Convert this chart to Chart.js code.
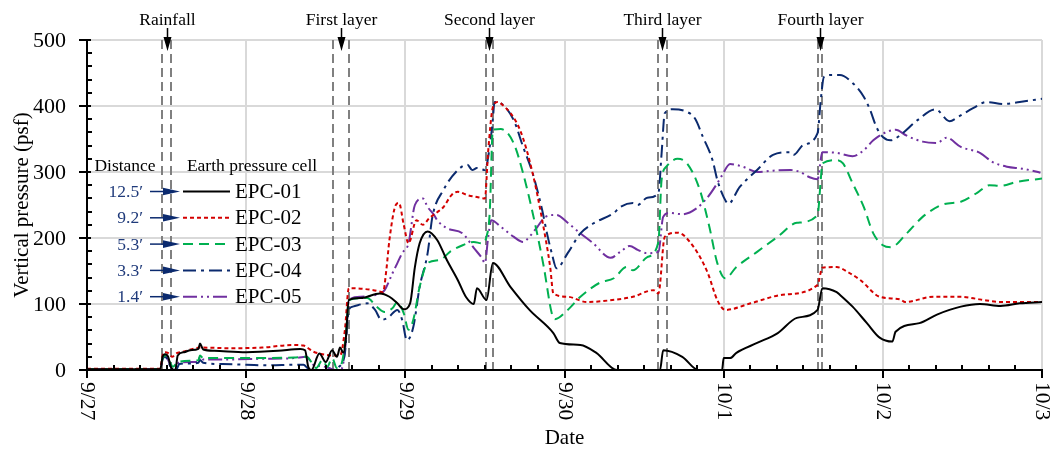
<!DOCTYPE html>
<html><head><meta charset="utf-8">
<script src="https://cdn.jsdelivr.net/npm/chart.js@4.4.1/dist/chart.umd.min.js"></script>
<style>html,body{margin:0;padding:0;background:#fff}#wrap{width:1052px;height:449px;position:relative}</style>
</head><body><div id="wrap"><canvas id="c"></canvas></div>
<script>
// ---- data (x = days since 9/27 00:00, y = psf) ----
const xTickLabels = ['9/27','9/28','9/29','9/30','10/1','10/2','10/3'];
const yTickLabels = ['0','100','200','300','400','500'];
const seriesNames = ['EPC-01','EPC-02','EPC-03','EPC-04','EPC-05'];
const distances = ['12.5\u2032','9.2\u2032','5.3\u2032','3.3\u2032','1.4\u2032'];
const eventNames = ['Rainfall','First layer','Second layer','Third layer','Fourth layer'];
const eventStart = [0.471,1.545,2.506,3.587,4.592];
const eventEnd   = [0.528,1.646,2.550,3.643,4.617];

const epc01 = [[0,1],[0.46,1],[0.475,20],[0.49,24],[0.51,20],[0.53,3],[0.555,0],[0.57,22],[0.61,27],[0.65,30],[0.70,32],[0.71,40],[0.73,31],[0.8,29],[1.0,27],[1.2,29],[1.34,32],[1.37,30],[1.39,5],[1.41,0],[1.46,25],[1.5,12],[1.54,30],[1.57,20],[1.59,34],[1.61,26],[1.625,45],[1.645,106],[1.72,109],[1.84,116],[1.90,111],[1.95,101],[1.99,92],[2.03,101],[2.06,156],[2.09,192],[2.14,210],[2.20,197],[2.26,167],[2.33,136],[2.38,111],[2.43,100],[2.45,124],[2.51,106],[2.55,162],[2.66,126],[2.78,91],[2.93,56],[2.97,41],[3.10,38],[3.20,26],[3.33,0],[3.60,0],[3.62,30],[3.74,20],[3.84,0],[3.99,0],[4.0,18],[4.04,18],[4.08,26],[4.21,41],[4.34,56],[4.46,79],[4.59,91],[4.62,124],[4.71,118],[4.73,114],[4.81,96],[4.90,71],[4.98,49],[5.06,43],[5.08,58],[5.23,71],[5.34,84],[5.49,96],[5.61,100],[5.74,97],[5.86,101],[6.0,103]];
const epc02 = [[0,2],[0.46,2],[0.475,22],[0.49,27],[0.52,24],[0.535,20],[0.56,25],[0.61,28],[0.71,34],[0.9,33],[1.1,34],[1.3,38],[1.36,37],[1.42,28],[1.46,25],[1.55,22],[1.59,22],[1.62,60],[1.645,124],[1.80,121],[1.86,118],[1.88,150],[1.90,197],[1.94,250],[1.96,253],[1.99,220],[2.02,192],[2.07,227],[2.11,220],[2.15,230],[2.20,239],[2.24,247],[2.29,265],[2.33,270],[2.39,265],[2.45,262],[2.50,260],[2.52,330],[2.55,398],[2.58,406],[2.60,404],[2.72,364],[2.80,298],[2.86,227],[2.91,156],[2.93,116],[3.02,111],[3.14,103],[3.30,106],[3.43,111],[3.56,121],[3.59,116],[3.63,202],[3.71,208],[3.81,187],[3.90,147],[3.96,106],[4.01,91],[4.17,101],[4.37,114],[4.59,129],[4.62,155],[4.71,156],[4.73,155],[4.79,147],[4.86,136],[4.98,111],[5.11,107],[5.14,103],[5.32,111],[5.49,111],[5.61,107],[5.74,103],[6.0,103]];
const epc03 = [[0,1],[0.46,1],[0.475,18],[0.49,22],[0.52,12],[0.54,5],[0.57,12],[0.65,14],[0.70,15],[0.71,22],[0.73,18],[0.9,18],[1.1,18],[1.3,19],[1.38,20],[1.41,12],[1.44,3],[1.48,15],[1.51,5],[1.54,18],[1.57,3],[1.60,10],[1.625,50],[1.645,106],[1.76,109],[1.82,96],[1.87,88],[1.92,94],[1.95,103],[1.99,86],[2.02,61],[2.05,76],[2.09,126],[2.14,162],[2.22,167],[2.28,179],[2.36,189],[2.43,194],[2.48,192],[2.51,202],[2.53,238],[2.55,364],[2.60,365],[2.68,344],[2.74,298],[2.80,238],[2.87,156],[2.92,86],[2.94,77],[3.02,91],[3.10,111],[3.22,132],[3.31,139],[3.39,156],[3.43,151],[3.52,171],[3.59,194],[3.61,288],[3.64,308],[3.71,320],[3.77,313],[3.85,273],[3.91,217],[3.96,162],[4.01,139],[4.08,156],[4.21,179],[4.34,202],[4.46,223],[4.59,235],[4.61,288],[4.62,313],[4.71,318],[4.75,313],[4.81,283],[4.88,247],[4.94,207],[5.0,189],[5.05,186],[5.15,207],[5.25,232],[5.38,251],[5.49,255],[5.59,268],[5.67,280],[5.74,279],[5.84,285],[6.0,290]];
const epc04 = [[0,0],[0.46,0],[0.475,16],[0.49,20],[0.51,14],[0.53,2],[0.56,0],[0.58,9],[0.65,10],[0.70,11],[0.71,15],[0.73,11],[0.85,9],[1.0,8],[1.15,7],[1.3,8],[1.36,8],[1.39,2],[1.42,0],[1.55,0],[1.58,4],[1.62,25],[1.645,91],[1.67,96],[1.76,101],[1.81,91],[1.85,76],[1.89,79],[1.95,91],[1.98,76],[2.01,45],[2.05,65],[2.09,126],[2.14,177],[2.17,232],[2.24,273],[2.33,303],[2.39,311],[2.42,303],[2.45,306],[2.50,303],[2.53,338],[2.55,380],[2.56,406],[2.60,404],[2.68,379],[2.74,338],[2.80,298],[2.86,242],[2.89,207],[2.92,177],[2.95,154],[3.02,177],[3.10,207],[3.18,222],[3.31,238],[3.35,247],[3.43,253],[3.46,250],[3.52,261],[3.59,268],[3.61,328],[3.63,389],[3.68,395],[3.77,391],[3.82,381],[3.87,353],[3.93,318],[3.96,288],[4.0,262],[4.03,252],[4.10,277],[4.21,303],[4.31,326],[4.42,330],[4.44,326],[4.50,341],[4.59,359],[4.61,409],[4.63,444],[4.68,447],[4.73,447],[4.81,435],[4.88,414],[4.92,394],[4.96,368],[5.0,353],[5.05,348],[5.11,356],[5.22,379],[5.33,395],[5.42,377],[5.47,383],[5.57,397],[5.65,406],[5.76,403],[5.86,406],[6.0,411]];
const epc05 = [[0,1],[0.46,1],[0.475,18],[0.49,22],[0.51,15],[0.53,3],[0.555,0],[0.575,11],[0.65,12],[0.70,12],[0.71,20],[0.73,16],[0.9,16],[1.1,17],[1.3,18],[1.38,20],[1.42,8],[1.47,6],[1.52,3],[1.56,0],[1.60,2],[1.625,40],[1.645,106],[1.72,111],[1.84,116],[1.87,121],[1.92,147],[1.95,162],[1.98,177],[2.02,192],[2.06,250],[2.11,260],[2.14,247],[2.18,235],[2.20,227],[2.26,215],[2.36,207],[2.43,185],[2.48,170],[2.50,162],[2.52,200],[2.54,227],[2.60,217],[2.68,202],[2.74,194],[2.78,202],[2.83,217],[2.88,232],[2.95,235],[3.02,223],[3.10,207],[3.18,192],[3.29,170],[3.35,179],[3.41,188],[3.46,182],[3.52,177],[3.59,179],[3.62,232],[3.66,238],[3.74,236],[3.83,245],[3.90,262],[3.96,283],[3.99,295],[4.04,312],[4.12,308],[4.21,300],[4.31,302],[4.42,303],[4.48,300],[4.54,292],[4.59,289],[4.62,330],[4.71,329],[4.81,324],[4.88,333],[4.94,348],[5.0,358],[5.08,364],[5.15,355],[5.25,346],[5.34,344],[5.40,352],[5.49,338],[5.61,329],[5.69,315],[5.78,308],[5.88,305],[5.99,299]];

const seriesData = [epc01, epc02, epc03, epc04, epc05];
const colors = ['#000000','#d40000','#00b050','#0b2a6e','#7030a0'];
const dashes = [[],[4,3],[10,6],[13,5,3,5],[14,4,2,4,2,4]];
const FONT = '"Liberation Serif","Times New Roman",serif';

const overlay = {
  id:'overlay',
  beforeDatasetsDraw(chart){
    const {ctx, chartArea:a, scales:{x}} = chart;
    ctx.save();
    ctx.strokeStyle = '#808080'; ctx.lineWidth = 2; ctx.setLineDash([9,5]);
    eventStart.forEach((s,i)=>{
      [s, eventEnd[i]].forEach(v=>{
        const px = Math.round(x.getPixelForValue(v));
        ctx.beginPath(); ctx.moveTo(px, a.top); ctx.lineTo(px, a.bottom); ctx.stroke();
      });
    });
    ctx.restore();
  },
  afterDraw(chart){
    const {ctx, chartArea:a, scales:{x,y}} = chart;
    ctx.save();
    ctx.setLineDash([]);
    ctx.strokeStyle = '#000'; ctx.fillStyle = '#000';
    // axes
    ctx.lineWidth = 2;
    ctx.beginPath(); ctx.moveTo(a.left, a.top - 1); ctx.lineTo(a.left, a.bottom + 1); ctx.stroke();
    ctx.beginPath(); ctx.moveTo(a.left - 1, a.bottom); ctx.lineTo(a.right + 1, a.bottom); ctx.stroke();
    // y ticks
    for (let v = 0; v <= 500; v += 20) {
      const py = Math.round(y.getPixelForValue(v));
      ctx.beginPath();
      if (v % 100 === 0) { ctx.moveTo(a.left - 8, py); ctx.lineTo(a.left + 4, py); }
      else { ctx.moveTo(a.left - 1, py); ctx.lineTo(a.left + 5, py); }
      ctx.stroke();
    }
    // x ticks
    for (let k = 0; k <= 36; k++) {
      const px = Math.round(x.getPixelForValue(k / 6));
      ctx.beginPath();
      if (k % 6 === 0) { ctx.moveTo(px, a.bottom - 1); ctx.lineTo(px, a.bottom + 8); }
      else { ctx.moveTo(px, a.bottom - 5); ctx.lineTo(px, a.bottom); }
      ctx.stroke();
    }
    // y tick labels
    ctx.font = '22px ' + FONT; ctx.textAlign = 'right'; ctx.textBaseline = 'middle';
    yTickLabels.forEach((t,i)=>{ ctx.fillText(t, a.left - 21, y.getPixelForValue(i*100) + 1); });
    // x tick labels (rotated clockwise)
    ctx.font = '21.5px ' + FONT; ctx.textAlign = 'left'; ctx.textBaseline = 'middle';
    xTickLabels.forEach((t,i)=>{
      const px = x.getPixelForValue(i);
      ctx.save(); ctx.translate(px, a.bottom + 12); ctx.rotate(Math.PI/2);
      ctx.fillText(t, 0, 0); ctx.restore();
    });
    // axis titles
    ctx.font = '21px ' + FONT; ctx.textAlign = 'center'; ctx.textBaseline = 'middle';
    ctx.fillText('Date', (a.left + a.right)/2, 438);
    ctx.save(); ctx.translate(22, (a.top + a.bottom)/2); ctx.rotate(-Math.PI/2);
    ctx.fillText('Vertical pressure (psf)', 0, 0); ctx.restore();
    // event arrows and labels
    ctx.font = '17.5px ' + FONT; ctx.textAlign = 'center'; ctx.textBaseline = 'alphabetic';
    eventStart.forEach((s,i)=>{
      const ax = Math.round(x.getPixelForValue((s + eventEnd[i]) / 2)) + 0.5;
      ctx.fillText(eventNames[i], ax, 25);
      ctx.lineWidth = 1.5;
      ctx.beginPath(); ctx.moveTo(ax, 28); ctx.lineTo(ax, 39); ctx.stroke();
      ctx.beginPath(); ctx.moveTo(ax - 4, 37); ctx.lineTo(ax + 4, 37); ctx.lineTo(ax, 51); ctx.closePath(); ctx.fill();
    });
    // legend
    ctx.font = '17.5px ' + FONT; ctx.textAlign = 'center'; ctx.textBaseline = 'middle';
    ctx.fillText('Distance', 125, 166);
    ctx.fillText('Earth pressure cell', 252, 166);
    seriesNames.forEach((n,i)=>{
      const ry = 191.5 + i * 26.3;
      ctx.font = '17.5px ' + FONT; ctx.textAlign = 'right'; ctx.fillStyle = '#1f3a7a';
      ctx.fillText(distances[i], 143, ry + 1);
      ctx.strokeStyle = '#0b2a6e'; ctx.fillStyle = '#0b2a6e'; ctx.lineWidth = 1.5; ctx.setLineDash([]);
      ctx.beginPath(); ctx.moveTo(150, ry); ctx.lineTo(165, ry); ctx.stroke();
      ctx.beginPath(); ctx.moveTo(163, ry - 3.8); ctx.lineTo(180, ry); ctx.lineTo(163, ry + 3.8); ctx.closePath(); ctx.fill();
      ctx.strokeStyle = colors[i]; ctx.lineWidth = 2; ctx.setLineDash(dashes[i]);
      ctx.beginPath(); ctx.moveTo(183, ry); ctx.lineTo(230, ry); ctx.stroke();
      ctx.setLineDash([]);
      ctx.fillStyle = '#000'; ctx.font = '21px ' + FONT; ctx.textAlign = 'left';
      ctx.fillText(n, 235, ry + 1);
    });
    ctx.restore();
  }
};

new Chart(document.getElementById('c'), {
  type: 'line',
  data: {
    datasets: seriesNames.map((n,i)=>({
      label: n,
      data: seriesData[i].map(p=>({x:p[0], y:p[1]})),
      borderColor: colors[i],
      borderDash: dashes[i],
      borderWidth: 2,
      pointRadius: 0,
      cubicInterpolationMode: 'monotone',
      fill: false
    }))
  },
  options: {
    responsive: true, maintainAspectRatio: false, animation: false,
    layout: { padding: { top: 40, right: 10, left: 0, bottom: 0 } },
    plugins: { legend: { display: false }, tooltip: { enabled: false } },
    scales: {
      x: { type: 'linear', min: 0, max: 6,
           ticks: { stepSize: 1, display: false },
           grid: { color: '#d9d9d9', lineWidth: 2, drawTicks: false },
           border: { display: false },
           afterFit(s){ s.height = 79; } },
      y: { type: 'linear', min: 0, max: 500,
           ticks: { stepSize: 100, display: false },
           grid: { color: '#d9d9d9', lineWidth: 2, drawTicks: false },
           border: { display: false },
           afterFit(s){ s.width = 87; } }
    }
  },
  plugins: [overlay]
});
</script></body></html>
